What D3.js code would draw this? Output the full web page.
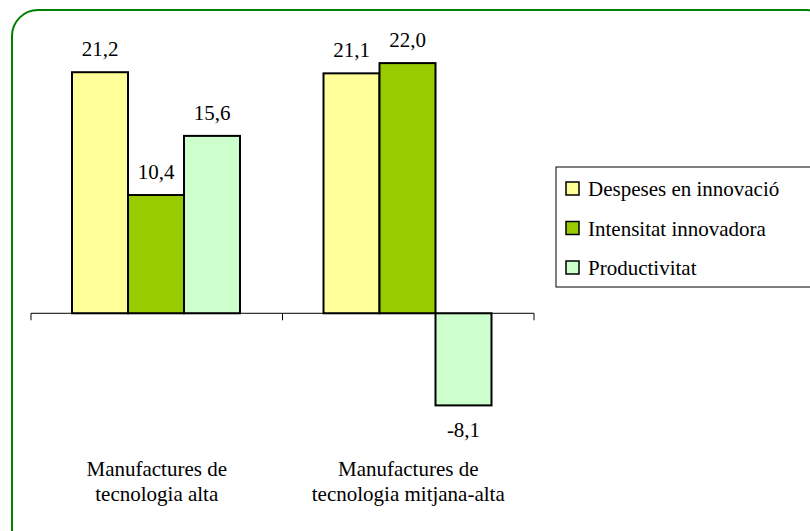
<!DOCTYPE html>
<meta charset="utf-8">
<script src="https://d3js.org/d3.v7.min.js"></script>
<style>
  body { margin: 0; background: #fff; }
  svg text { font-family: "Liberation Serif", "Times New Roman", Times, "DejaVu Serif", serif; fill: #000; }
</style>
<body>
<script>
var categories = ["Manufactures de|tecnologia alta", "Manufactures de|tecnologia mitjana-alta"];
var seriesNames = ["Despeses en innovació", "Intensitat innovadora", "Productivitat"];
var despeses = [21.2, 21.1];
var intensitat = [10.4, 22.0];
var productivitat = [15.6, -8.1];
var colors = ["#ffff99", "#99cc00", "#ccffcc"];

var groupData = categories.map(function(c, i) {
  return { key: c, values: [
    { grpName: seriesNames[0], grpValue: despeses[i] },
    { grpName: seriesNames[1], grpValue: intensitat[i] },
    { grpName: seriesNames[2], grpValue: productivitat[i] }
  ]};
});

var width = 810, height = 531;
var serif = "'Liberation Serif', 'Times New Roman', Times, 'DejaVu Serif', serif";

var svg = d3.select("body").append("svg")
  .attr("width", width)
  .attr("height", height);

// rounded green frame, runs past the right/bottom edge
svg.append("rect")
  .attr("x", 12).attr("y", 10)
  .attr("width", 820).attr("height", 545)
  .attr("rx", 26).attr("ry", 26)
  .attr("fill", "none")
  .attr("stroke", "#008000")
  .attr("stroke-width", 2);

var x0 = d3.scaleBand().domain(categories).range([31, 534]);
var x1 = d3.scaleBand().domain(seriesNames).range([41, 209]);
var y = d3.scaleLinear().domain([-10, 25]).range([427, 29]);
var color = d3.scaleOrdinal().domain(seriesNames).range(colors);

var slice = svg.selectAll(".slice")
  .data(groupData)
  .enter().append("g")
  .attr("class", "slice")
  .attr("transform", function(d) { return "translate(" + x0(d.key) + ",0)"; });

slice.selectAll("rect")
  .data(function(d) { return d.values; })
  .enter().append("rect")
    .attr("x", function(d) { return x1(d.grpName); })
    .attr("width", x1.bandwidth())
    .attr("y", function(d) { return y(Math.max(0, d.grpValue)); })
    .attr("height", function(d) { return Math.abs(y(d.grpValue) - y(0)); })
    .attr("fill", function(d) { return color(d.grpName); })
    .attr("stroke", "#000")
    .attr("stroke-width", 2);

slice.selectAll(".val")
  .data(function(d) { return d.values; })
  .enter().append("text")
    .attr("class", "val")
    .attr("x", function(d) { return x1(d.grpName) + x1.bandwidth() / 2; })
    .attr("y", function(d) { return d.grpValue >= 0 ? y(d.grpValue) - 16 : y(d.grpValue) + 32; })
    .attr("text-anchor", "middle")
    .attr("font-family", serif)
    .style("font-size", "21px")
    .text(function(d) { return d.grpValue.toFixed(1).replace(".", ","); });

// x axis at zero
var xAxis = svg.append("g")
  .attr("transform", "translate(0," + y(0) + ")");
xAxis.append("line")
  .attr("x1", 31).attr("x2", 534)
  .attr("stroke", "#000").attr("stroke-width", 1);
var tickPos = [x0.range()[0]].concat(categories.map(function(c) { return x0(c) + x0.bandwidth(); }));
xAxis.selectAll(".tick")
  .data(tickPos)
  .enter().append("line")
    .attr("x1", function(d) { return d; })
    .attr("x2", function(d) { return d; })
    .attr("y1", 0).attr("y2", 7)
    .attr("stroke", "#000");

// category labels
var catLabels = svg.selectAll(".cat")
  .data(categories)
  .enter().append("text")
    .attr("class", "cat")
    .attr("text-anchor", "middle")
    .attr("font-family", serif)
    .style("font-size", "21px")
    .attr("transform", function(d) { return "translate(" + (x0(d) + x0.bandwidth() / 2) + ",476)"; });
catLabels.selectAll("tspan")
  .data(function(d) { return d.split("|"); })
  .enter().append("tspan")
    .attr("x", 0)
    .attr("dy", function(d, i) { return i ? 25 : 0; })
    .text(function(d) { return d; });

// legend
var legend = svg.append("g").attr("transform", "translate(556,167)");
legend.append("rect")
  .attr("width", 270).attr("height", 120)
  .attr("fill", "#fff").attr("stroke", "#000").attr("stroke-width", 1);
var item = legend.selectAll(".item")
  .data(seriesNames)
  .enter().append("g")
  .attr("transform", function(d, i) { return "translate(10," + (15 + i * 39.5) + ")"; });
item.append("rect")
  .attr("width", 13).attr("height", 13)
  .attr("fill", function(d) { return color(d); })
  .attr("stroke", "#000").attr("stroke-width", 1.5);
item.append("text")
  .attr("x", 22).attr("y", 14)
  .attr("font-family", serif)
  .style("font-size", "21px")
  .text(function(d) { return d; });
</script>
</body>
